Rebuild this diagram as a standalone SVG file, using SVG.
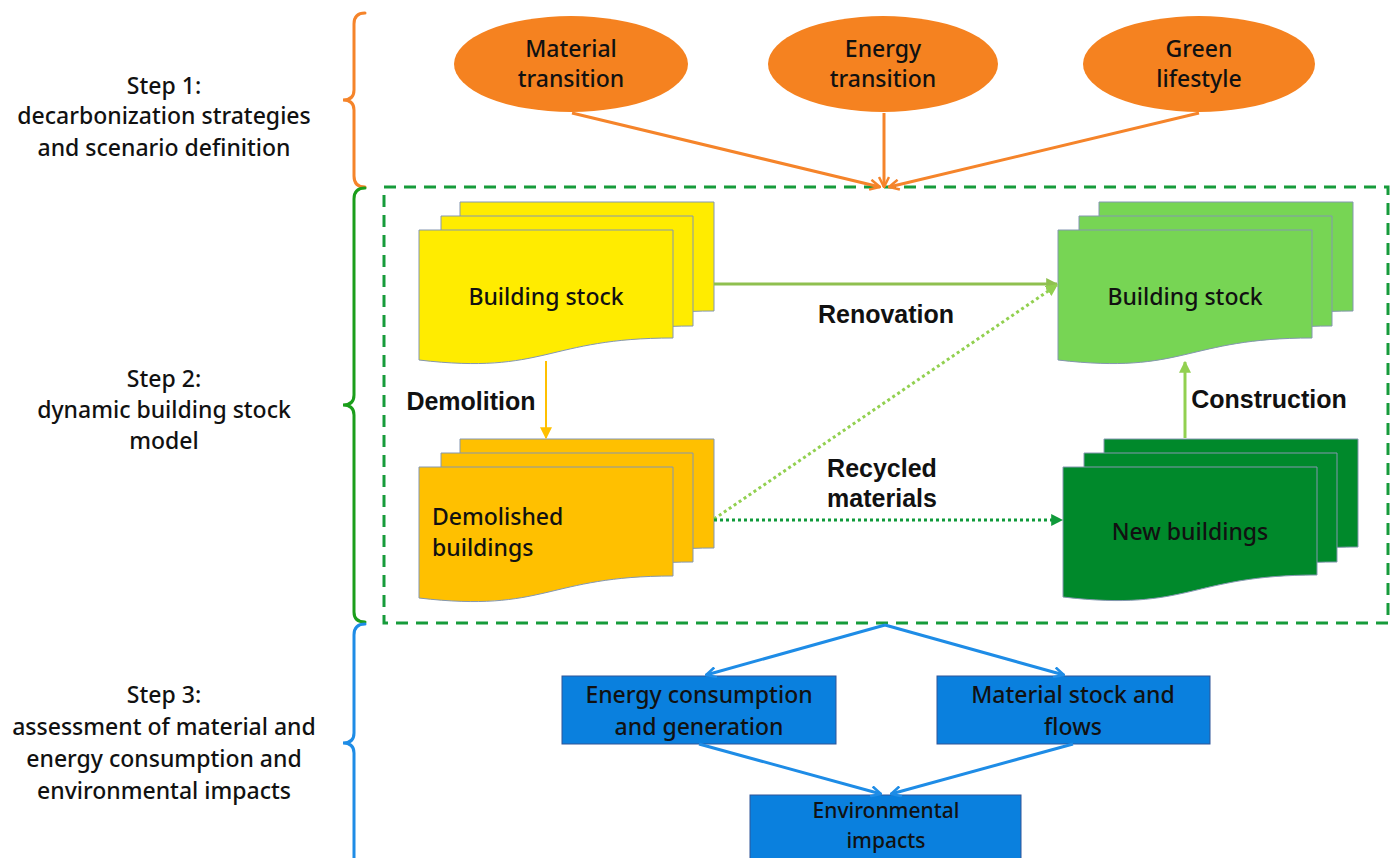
<svg xmlns="http://www.w3.org/2000/svg" width="1394" height="858" viewBox="0 0 1394 858">
<defs>
<style>
.step{font-family:"Noto Sans","Liberation Sans",sans-serif;font-size:23px;font-weight:500;fill:#111;text-anchor:middle}
.node{font-family:"Noto Sans","Liberation Sans",sans-serif;font-size:23px;font-weight:500;fill:#111;text-anchor:middle}
.nodel{font-family:"Noto Sans","Liberation Sans",sans-serif;font-size:23px;font-weight:500;fill:#111;text-anchor:start}
.nodes{font-family:"Noto Sans","Liberation Sans",sans-serif;font-size:21px;font-weight:500;fill:#111;text-anchor:middle}
.lbl{font-family:"Liberation Sans",Arial,sans-serif;font-size:25px;font-weight:bold;fill:#111;text-anchor:middle}
.ell{fill:#F58220;stroke:none}
.doc{stroke:#8497B0;stroke-width:1}
.box{fill:#0A80DE;stroke:#2F5597;stroke-width:1}
.brace{fill:none;stroke-width:3;stroke-linecap:round}
.orange{stroke:#F5842A;stroke-width:3;fill:none}
.blue{stroke:#1E8CE6;stroke-width:3;fill:none}
</style>
<marker id="vOrange" viewBox="0 0 12 12" refX="11" refY="6" markerWidth="12" markerHeight="12" markerUnits="userSpaceOnUse" orient="auto">
<path d="M1,1 L11,6 L1,11" fill="none" stroke="#F5842A" stroke-width="2.5"/>
</marker>
<marker id="vBlue" viewBox="0 0 12 12" refX="11" refY="6" markerWidth="12" markerHeight="12" markerUnits="userSpaceOnUse" orient="auto">
<path d="M1,1 L11,6 L1,11" fill="none" stroke="#1E8CE6" stroke-width="2.5"/>
</marker>
<marker id="tOlive" viewBox="0 0 10 10" refX="9" refY="5" markerWidth="12" markerHeight="12" markerUnits="userSpaceOnUse" orient="auto">
<path d="M0,0 L10,5 L0,10 Z" fill="#8FC04F"/>
</marker>
<marker id="tLight" viewBox="0 0 10 10" refX="9" refY="5" markerWidth="12" markerHeight="12" markerUnits="userSpaceOnUse" orient="auto">
<path d="M0,0 L10,5 L0,10 Z" fill="#92D050"/>
</marker>
<marker id="tDark" viewBox="0 0 10 10" refX="9" refY="5" markerWidth="12" markerHeight="12" markerUnits="userSpaceOnUse" orient="auto">
<path d="M0,0 L10,5 L0,10 Z" fill="#0F9A3A"/>
</marker>
<marker id="tGold" viewBox="0 0 10 10" refX="9" refY="5" markerWidth="12" markerHeight="12" markerUnits="userSpaceOnUse" orient="auto">
<path d="M0,0 L10,5 L0,10 Z" fill="#FFC000"/>
</marker>
</defs>
<rect width="1394" height="858" fill="#FFFFFF"/>

<g id="braces">
<path class="brace" stroke="#F5842A" d="M365,13 Q354,13 354,24 V90 Q354,100 343,100 Q354,100 354,110 V176 Q354,187 365,187"/>
<path class="brace" stroke="#1B9E1B" d="M365,188 Q354,188 354,199 V395 Q354,405 343,405 Q354,405 354,415 V612 Q354,622 365,622"/>
<path class="brace" stroke="#1E8CE6" d="M365,624 Q354,624 354,635 V733 Q354,743 343,743 Q354,743 354,753 V860"/>
</g>

<g id="step-labels">
<text class="step" x="164" y="94">Step 1:</text>
<text class="step" x="164" y="124">decarbonization strategies</text>
<text class="step" x="164" y="156">and scenario definition</text>
<text class="step" x="164" y="387">Step 2:</text>
<text class="step" x="164" y="418">dynamic building stock</text>
<text class="step" x="164" y="449">model</text>
<text class="step" x="164" y="703">Step 3:</text>
<text class="step" x="164" y="735">assessment of material and</text>
<text class="step" x="164" y="767">energy consumption and</text>
<text class="step" x="164" y="799">environmental impacts</text>
</g>

<g id="model-frame">
<rect x="384" y="187" width="1004" height="436" fill="none" stroke="#169B3B" stroke-width="3" stroke-dasharray="12 8"/>
</g>

<g id="material-transition">
<ellipse class="ell" cx="571" cy="64" rx="117" ry="48"/>
<text class="node" x="571" y="57">Material</text>
<text class="node" x="571" y="87">transition</text>
</g>
<g id="energy-transition">
<ellipse class="ell" cx="883" cy="64" rx="115" ry="48"/>
<text class="node" x="883" y="57">Energy</text>
<text class="node" x="883" y="87">transition</text>
</g>
<g id="green-lifestyle">
<ellipse class="ell" cx="1199" cy="64" rx="116" ry="48"/>
<text class="node" x="1199" y="57">Green</text>
<text class="node" x="1199" y="87">lifestyle</text>
</g>

<g id="building-stock-old">
<path class="doc" fill="#FFEC00" d="M460,202 H714 V311 C587,311 587,348 460,333 Z"/>
<path class="doc" fill="#FFEC00" d="M441,216 H693 V326 C567,326 567,363 441,348 Z"/>
<path class="doc" fill="#FFEC00" d="M419,230 H673 V338 C546,338 546,375 419,360 Z"/>
<text class="node" x="546" y="305">Building stock</text>
</g>

<g id="demolished-buildings">
<path class="doc" fill="#FFC000" d="M460,439 H714 V548 C587,548 587,585 460,570 Z"/>
<path class="doc" fill="#FFC000" d="M441,453 H693 V562 C567,562 567,599 441,584 Z"/>
<path class="doc" fill="#FFC000" d="M419,467 H673 V576 C546,576 546,613 419,598 Z"/>
<text class="nodel" x="432" y="525">Demolished</text>
<text class="nodel" x="432" y="556">buildings</text>
</g>

<g id="building-stock-new">
<path class="doc" fill="#77D554" d="M1099,202 H1353 V311 C1226,311 1226,348 1099,333 Z"/>
<path class="doc" fill="#77D554" d="M1079,216 H1332 V326 C1205,326 1205,363 1079,348 Z"/>
<path class="doc" fill="#77D554" d="M1058,230 H1312 V338 C1185,338 1185,375 1058,360 Z"/>
<text class="node" x="1185" y="305">Building stock</text>
</g>

<g id="new-buildings">
<path class="doc" fill="#00892B" d="M1104,439 H1358 V547 C1231,547 1231,584 1104,569 Z"/>
<path class="doc" fill="#00892B" d="M1084,453 H1337 V562 C1210,562 1210,599 1084,584 Z"/>
<path class="doc" fill="#00892B" d="M1063,467 H1317 V575 C1190,575 1190,612 1063,597 Z"/>
<text class="node" x="1190" y="540">New buildings</text>
</g>

<g id="energy-consumption">
<rect class="box" x="562" y="676" width="274" height="68"/>
<text class="node" x="699" y="703">Energy consumption</text>
<text class="node" x="699" y="735">and generation</text>
</g>
<g id="material-stock">
<rect class="box" x="937" y="676" width="273" height="68"/>
<text class="node" x="1073" y="703">Material stock and</text>
<text class="node" x="1073" y="735">flows</text>
</g>
<g id="environmental-impacts">
<rect class="box" x="750" y="795" width="271" height="70"/>
<text class="nodes" x="886" y="818">Environmental</text>
<text class="nodes" x="886" y="848">impacts</text>
</g>

<g id="connectors">
<line class="orange" x1="572" y1="113" x2="880" y2="187" marker-end="url(#vOrange)"/>
<line class="orange" x1="884" y1="113" x2="884" y2="187" marker-end="url(#vOrange)"/>
<line class="orange" x1="1199" y1="113" x2="889" y2="187" marker-end="url(#vOrange)"/>

<line x1="714" y1="284" x2="1057" y2="284" stroke="#8FC04F" stroke-width="3" marker-end="url(#tOlive)"/>
<line x1="546" y1="361" x2="546" y2="438" stroke="#FFC000" stroke-width="2" marker-end="url(#tGold)"/>
<line x1="1185" y1="438" x2="1185" y2="362" stroke="#92D050" stroke-width="3" marker-end="url(#tLight)"/>
<line x1="714" y1="519" x2="1057" y2="285" stroke="#92D050" stroke-width="3" stroke-dasharray="3 3" marker-end="url(#tLight)"/>
<line x1="714" y1="520" x2="1062" y2="520" stroke="#0F9A3A" stroke-width="3" stroke-dasharray="3 3" marker-end="url(#tDark)"/>

<line class="blue" x1="885" y1="625" x2="706" y2="675" marker-end="url(#vBlue)"/>
<line class="blue" x1="885" y1="625" x2="1064" y2="675" marker-end="url(#vBlue)"/>
<line class="blue" x1="699" y1="744" x2="881" y2="794" marker-end="url(#vBlue)"/>
<line class="blue" x1="1073" y1="744" x2="891" y2="794" marker-end="url(#vBlue)"/>

<text class="lbl" x="886" y="323">Renovation</text>
<text class="lbl" x="471" y="410">Demolition</text>
<text class="lbl" x="1269" y="408">Construction</text>
<text class="lbl" x="882" y="477">Recycled</text>
<text class="lbl" x="882" y="507">materials</text>
</g>
</svg>
